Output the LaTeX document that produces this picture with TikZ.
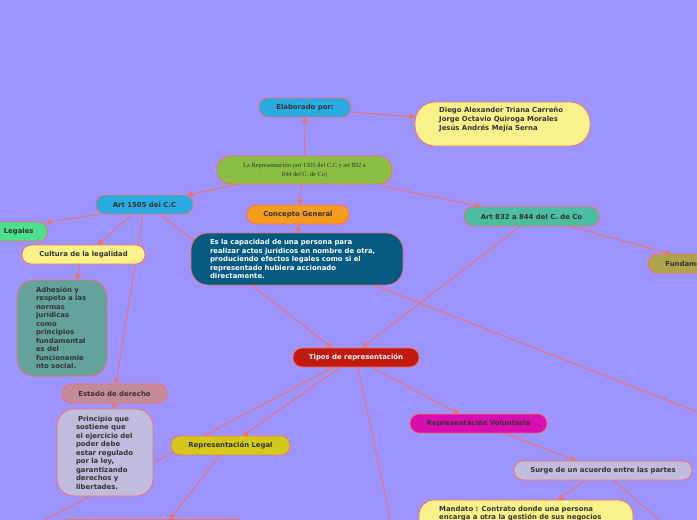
\documentclass[tikz,border=0pt]{standalone}
\usepackage{fontspec}
\setmainfont{Liberation Serif}
\newfontfamily\vsans{DejaVu Sans}
\usetikzlibrary{arrows.meta,calc}
\definecolor{bgc}{RGB}{157,148,255}
\definecolor{lc}{RGB}{242,112,98}
\definecolor{txt}{RGB}{51,51,51}
\definecolor{bluec}{RGB}{41,171,226}
\definecolor{yelc}{RGB}{249,242,139}
\definecolor{mainc}{RGB}{139,190,68}
\definecolor{orac}{RGB}{243,156,31}
\definecolor{deftc}{RGB}{4,90,128}
\definecolor{legc}{RGB}{76,224,140}
\definecolor{adhc}{RGB}{100,163,156}
\definecolor{estc}{RGB}{196,138,154}
\definecolor{lavc}{RGB}{192,188,222}
\definecolor{redc}{RGB}{194,25,14}
\definecolor{olic}{RGB}{212,200,26}
\definecolor{magc}{RGB}{217,14,175}
\definecolor{artc}{RGB}{75,190,160}
\definecolor{func}{RGB}{176,164,74}
\pgfdeclarelayer{back}
\pgfdeclarelayer{bg}
\pgfsetlayers{back,bg,main}
\tikzset{
  pill/.style={draw=lc, line width=0.8pt, rounded corners=9pt, inner sep=0pt,
    minimum height=19pt, font=\vsans\bfseries\fontsize{6.9}{8.5}\selectfont, text=txt},
  bigbox/.style={draw=lc, line width=0.8pt, rounded corners=15pt, inner sep=0pt,
    font=\vsans\bfseries\fontsize{6.9}{8.5}\selectfont, text=txt, align=left},
  txtonly/.style={inner sep=0pt, font=\vsans\bfseries\fontsize{6.9}{9}\selectfont, text=txt, align=left},
  conn/.style={draw=lc, line width=0.9pt, -{Triangle[length=5pt,width=6pt]}},
  plain/.style={draw=lc, line width=0.9pt}
}
\begin{document}
\begin{tikzpicture}[x=1pt,y=-1pt]
\begin{pgfonlayer}{back}
\fill[bgc] (0,0) rectangle (697,520);
\end{pgfonlayer}
\useasboundingbox (0,0) rectangle (697,520);

% nodes
\node[pill, fill=bluec, minimum width=92pt] (elab) at (305,107.5) {Elaborado por:};
\node[bigbox, fill=yelc, minimum width=175pt, minimum height=44pt, rounded corners=20pt] (auth) at (502.5,124) {};
\node[txtonly, anchor=north west] (authT) at (439,106.5) {Diego Alexander Triana Carreño\\Jorge Octavio Quiroga Morales\\Jesús Andrés Mejía Serna};
\node[draw=lc, line width=0.8pt, rounded corners=13pt, fill=mainc, minimum width=175pt, minimum height=28pt, inner sep=0pt,
  font=\fontsize{6.4}{9}\selectfont, text=txt, align=center] (mainn) at (304.5,170) {La Representación (art 1505 del C.C y art 832 a\\844 del C. de Co)};
\node[pill, fill=bluec, minimum width=97pt] (art1505) at (144.5,204.5) {Art 1505 del C.C};
\node[pill, fill=orac, minimum width=102pt] (conc) at (298,214.5) {Concepto General};
\node[bigbox, fill=deftc, text=white, minimum width=212pt, minimum height=52pt, text width=174pt, rounded corners=17pt] (def) at (297,259)
  {Es la capacidad de una persona para\\realizar actos jurídicos en nombre de otra,\\produciendo efectos legales como si el\\representado hubiera accionado\\directamente.};
\node[pill, fill=legc, anchor=east] (leg) at (48,231.5) {\hspace*{40pt}Legales\hspace*{14pt}};
\node[pill, fill=yelc, minimum width=123pt] (cult) at (83.5,254.5) {Cultura de la legalidad};
\node[bigbox, fill=adhc, minimum width=90pt, minimum height=96pt, text width=52pt, rounded corners=17pt] (adh) at (62,328)
  {Adhesión y\\respeto a las\\normas\\jurídicas\\como\\principios\\fundamental\\es del\\funcionamie\\nto social.};
\node[pill, fill=estc, minimum width=105pt] (est) at (114.5,393.5) {Estado de derecho};
\node[bigbox, fill=lavc, minimum width=96pt, minimum height=87pt, text width=58pt, rounded corners=17pt] (prin) at (105,452.5)
  {\hspace*{2pt}Principio que\\sostiene que\\el ejercicio del\\poder debe\\estar regulado\\por la ley,\\garantizando\\derechos y\\libertades.};
\node[pill, fill=redc, text=white, minimum width=126pt] (tipos) at (356,357.5) {Tipos de representación};
\node[pill, fill=olic, minimum width=119pt] (rleg) at (230.5,445.5) {Representación Legal};
\node[pill, fill=magc, minimum width=137pt] (rvol) at (478.5,423.5) {Representación Voluntaria};
\node[pill, fill=lavc, minimum width=178pt] (surge) at (603,470.5) {Surge de un acuerdo entre las partes};
\node[pill, fill=artc, minimum width=135pt] (art832) at (531.5,216.5) {Art 832 a 844 del C. de Co};
\node[pill, fill=func, anchor=west] (fund) at (648,263.5) {\hspace*{17pt}Fundame\hspace*{20pt}};
\node[bigbox, fill=yelc, minimum width=214pt, minimum height=40pt, rounded corners=15pt] (mand) at (526,520) {};
\node[txtonly, anchor=north west, font=\vsans\bfseries\fontsize{6.9}{8}\selectfont] (mandT) at (439,506.5) {Mandato : Contrato donde una persona\\encarga a otra la gestión de sus negocios};
\node[bigbox, fill=lavc, minimum width=196pt, minimum height=30pt] (blbox) at (153,534.5) {};

\coordinate (offR) at (700,413);
\coordinate (offBL) at (43,521);
\coordinate (offB) at (390.6,521);
\coordinate (offS) at (660,521);

% connectors
\begin{pgfonlayer}{bg}
\draw[conn] (mainn.north) -- (elab.south);
\draw[conn] ($(elab.east)+(1,4.5)$) -- ($(auth.west)+(0,-7)$);
\draw[conn] ($(mainn.south)+(-68,0)$) -- ($(art1505.north)+(43,0.5)$);
\draw[conn] ($(mainn.south)+(-2.5,0)$) -- ($(conc.north)+(1,0)$);
\draw[conn] ($(mainn.south)+(75,1)$) -- ($(art832.north)+(-51,0)$);
\draw[conn] (conc.south) -- ($(def.north)+(1,0)$);
\draw[conn] ($(art1505.south)+(-44,-0.5)$) -- ($(leg.north east)+(-2,1)$);
\draw[conn] ($(art1505.south)+(-12.5,0)$) -- ($(cult.north)+(14.5,0)$);
\draw[conn] ($(art1505.south)+(-1.5,0)$) -- ($(est.north)+(1.5,0)$);
\draw[conn] ($(art1505.south)+(15.5,0)$) -- ($(tipos.north)+(-24,0)$);
\draw[conn] ($(art832.south)+(-11.5,0)$) -- ($(tipos.north)+(6,0)$);
\draw[plain] ($(def.south)+(78,0)$) -- (offR);
\draw[conn] ($(tipos.south)+(-16,0)$) -- ($(rleg.north)+(12.5,0)$);
\draw[plain] ($(tipos.south)+(-23,0)$) -- (offBL);
\draw[plain] ($(tipos.south)+(2,0)$) -- (offB);
\draw[conn] ($(tipos.south)+(16,0)$) -- ($(rvol.north)+(-20,0)$);
\draw[conn] ($(rleg.south)+(-11,0)$) -- ($(blbox.north)+(17,0)$);
\draw[conn] ($(rvol.south)+(26.5,0)$) -- ($(surge.north)+(-27,0)$);
\draw[conn] ($(surge.south)+(-18,0)$) -- ($(mand.north)+(32,0)$);
\draw[plain] ($(surge.south)+(11,0)$) -- (offS);
\draw[conn] ($(art832.south)+(38.5,0)$) -- ($(fund.north west)+(22,0)$);
\draw[conn] ($(cult.south)+(-4,0)$) -- ($(adh.north)+(15,0)$);
\draw[conn] (est.south) -- ($(prin.north)+(8,0)$);
\end{pgfonlayer}
\end{tikzpicture}
\end{document}
